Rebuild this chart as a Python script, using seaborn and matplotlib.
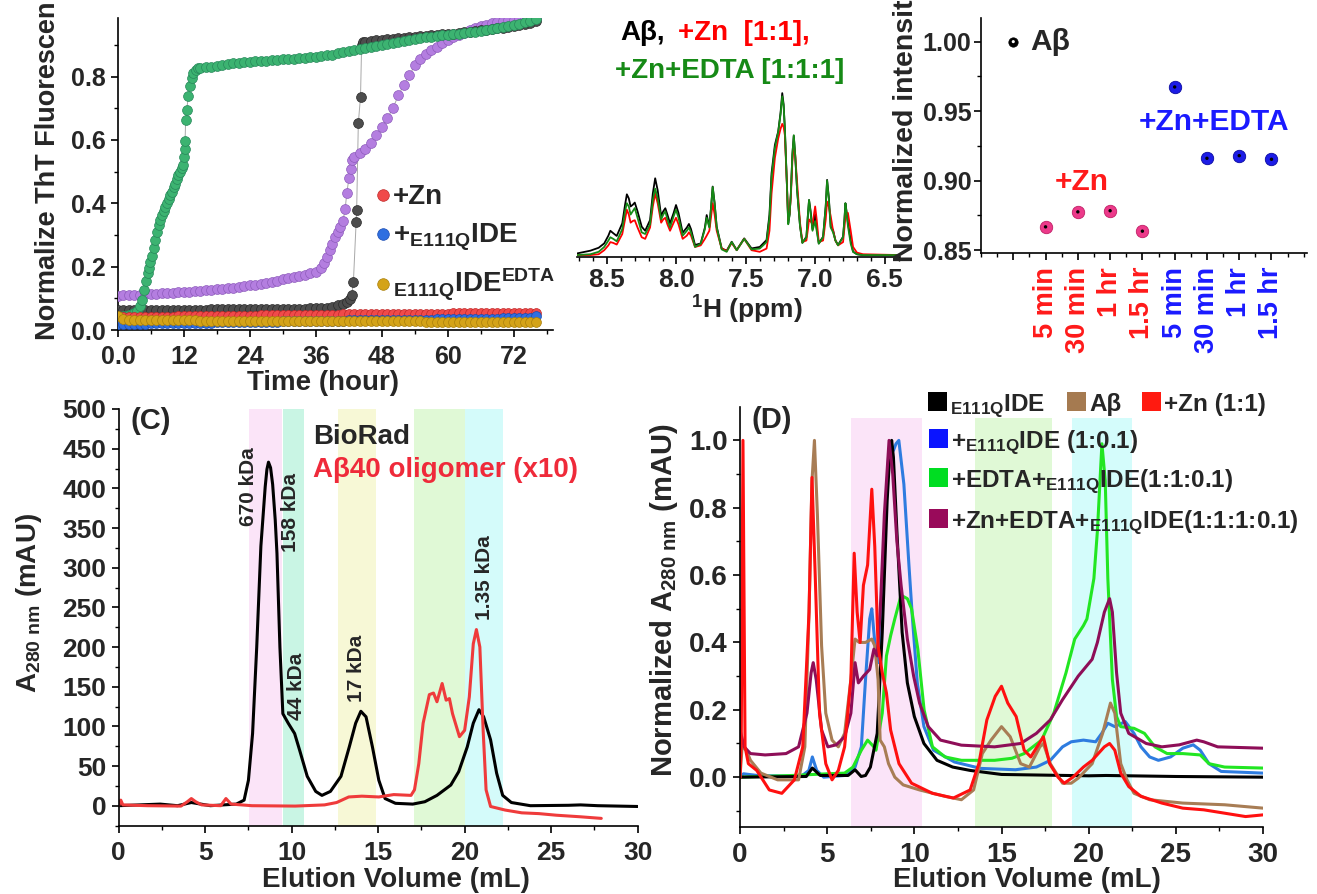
import matplotlib
matplotlib.use("Agg")
import matplotlib.pyplot as plt
import seaborn as sns
from matplotlib.ticker import MultipleLocator, FixedLocator
from matplotlib.patches import Rectangle

sns.set_theme(style="ticks")
plt.rcParams["font.family"] = ["Liberation Sans", "DejaVu Sans"]
plt.rcParams["font.weight"] = "bold"
plt.rcParams["mathtext.fontset"] = "custom"
plt.rcParams["mathtext.rm"] = "Liberation Sans:bold"
plt.rcParams["mathtext.bf"] = "Liberation Sans:bold"
plt.rcParams["mathtext.it"] = "Liberation Sans:bold"
plt.rcParams["mathtext.default"] = "bf"
plt.rcParams["axes.linewidth"] = 1.2

# ---------------- ThT kinetics (top left) ----------------
t_hourly = list(range(0, 77))
zn_tht = [0.040, 0.040, 0.041, 0.041, 0.041, 0.041, 0.042, 0.042, 0.042, 0.042,
          0.042, 0.043, 0.043, 0.043, 0.043, 0.043, 0.044, 0.044, 0.044, 0.044,
          0.044, 0.045, 0.045, 0.045, 0.045, 0.045, 0.046, 0.046, 0.046, 0.046,
          0.046, 0.047, 0.047, 0.047, 0.047, 0.047, 0.048, 0.048, 0.048, 0.048,
          0.048, 0.049, 0.049, 0.049, 0.049, 0.049, 0.050, 0.050, 0.050, 0.050,
          0.050, 0.051, 0.051, 0.051, 0.051, 0.051, 0.052, 0.052, 0.052, 0.052,
          0.052, 0.053, 0.053, 0.053, 0.053, 0.053, 0.054, 0.054, 0.054, 0.054,
          0.054, 0.055, 0.055, 0.055, 0.055, 0.055, 0.055]
ide_tht = [0.018, 0.019, 0.019, 0.020, 0.020, 0.020, 0.021, 0.021, 0.021, 0.021,
           0.022, 0.022, 0.022, 0.022, 0.023, 0.023, 0.023, 0.023, 0.024, 0.024,
           0.024, 0.024, 0.025, 0.025, 0.025, 0.025, 0.026, 0.026, 0.026, 0.026,
           0.027, 0.027, 0.027, 0.027, 0.028, 0.028, 0.028, 0.028, 0.029, 0.029,
           0.029, 0.029, 0.030, 0.030, 0.030, 0.030, 0.031, 0.031, 0.031, 0.031,
           0.032, 0.032, 0.032, 0.032, 0.033, 0.033, 0.033, 0.033, 0.034, 0.034,
           0.034, 0.034, 0.035, 0.035, 0.035, 0.035, 0.036, 0.036, 0.036, 0.036,
           0.037, 0.037, 0.037, 0.038, 0.038, 0.039, 0.044]
edta_tht = [0.045, 0.036, 0.033, 0.032, 0.031, 0.031, 0.030, 0.030, 0.030, 0.030,
            0.030, 0.030, 0.030, 0.030, 0.030, 0.029, 0.029, 0.029, 0.029, 0.029,
            0.029, 0.029, 0.029, 0.029, 0.029, 0.029, 0.029, 0.029, 0.029, 0.028,
            0.028, 0.028, 0.028, 0.028, 0.028, 0.028, 0.028, 0.028, 0.028, 0.028,
            0.028, 0.028, 0.028, 0.027, 0.027, 0.027, 0.027, 0.027, 0.027, 0.027,
            0.027, 0.027, 0.027, 0.027, 0.027, 0.027, 0.026, 0.026, 0.026, 0.026,
            0.026, 0.026, 0.026, 0.026, 0.026, 0.026, 0.026, 0.026, 0.026, 0.025,
            0.025, 0.025, 0.025, 0.025, 0.025, 0.025, 0.025]

gray_t = list(range(0, 42)) + [41.6, 42.1, 42.5, 42.8, 43.3, 43.4, 43.7, 44.1, 44.3, 44.6] + list(range(45, 77))
gray_v = [0.062, 0.062, 0.062, 0.063, 0.063, 0.063, 0.063, 0.063, 0.063, 0.063,
          0.064, 0.064, 0.064, 0.064, 0.064, 0.064, 0.064, 0.065, 0.065, 0.065,
          0.065, 0.065, 0.065, 0.065, 0.066, 0.066, 0.066, 0.066, 0.066, 0.066,
          0.067, 0.067, 0.067, 0.067, 0.067, 0.068, 0.068, 0.069, 0.071, 0.074,
          0.078, 0.083,
          0.089, 0.097, 0.110, 0.150, 0.340, 0.380, 0.653, 0.737, 0.900, 0.908,
          0.910, 0.912, 0.914, 0.916, 0.918, 0.920, 0.921, 0.923, 0.924, 0.926,
          0.927, 0.929, 0.930, 0.932, 0.933, 0.935, 0.936, 0.938, 0.940, 0.942,
          0.944, 0.946, 0.948, 0.950, 0.952, 0.954, 0.957, 0.960, 0.963, 0.966,
          0.970, 0.974]

green_t = [0, 0.5, 1, 1.5, 2, 2.5, 3, 3.5, 4.0, 4.4, 4.8, 5.1, 5.4, 5.6, 5.9,
           6.2, 6.5, 6.8, 7.1, 7.4, 7.7, 8.0, 8.3, 8.6, 8.9, 9.2, 9.5, 9.8, 10.1, 10.4,
           10.7, 11.0, 11.3, 11.6, 11.9, 12.0, 12.1, 12.2, 12.3, 12.5, 12.8, 13.1, 13.4,
           13.7, 14.1, 14.6] + list(range(15, 77))
green_v = [0.040, 0.041, 0.043, 0.045, 0.047, 0.050, 0.054, 0.060, 0.075, 0.095,
           0.125, 0.155, 0.180, 0.195, 0.215, 0.235, 0.260, 0.285, 0.310, 0.330,
           0.348, 0.362, 0.375, 0.388, 0.400, 0.412, 0.425, 0.437, 0.450, 0.462,
           0.476, 0.488, 0.500, 0.512, 0.522, 0.545, 0.570, 0.597, 0.663, 0.695,
           0.740, 0.770, 0.794, 0.812, 0.820, 0.826,
           0.827, 0.829, 0.831, 0.834, 0.837, 0.840, 0.842, 0.843, 0.845, 0.846,
           0.848, 0.849, 0.850, 0.852, 0.853, 0.855, 0.856, 0.857, 0.859, 0.860,
           0.862, 0.863, 0.865, 0.867, 0.869, 0.873, 0.878, 0.882, 0.884, 0.887,
           0.889, 0.893, 0.897, 0.900, 0.904, 0.907, 0.910, 0.913, 0.916, 0.919,
           0.921, 0.924, 0.926, 0.928, 0.930, 0.932, 0.934, 0.936, 0.938, 0.940,
           0.942, 0.944, 0.947, 0.950, 0.953, 0.956, 0.959, 0.963, 0.967, 0.971,
           0.976, 0.981]

purple_t = list(range(0, 37)) + [37, 37.5, 38, 38.6, 39, 39.5, 40, 40.4, 40.9, 41.3,
                                 41.6, 42.0, 42.3, 42.6] + list(range(43, 77))
purple_v = [0.108, 0.109, 0.110, 0.111, 0.112, 0.113, 0.114, 0.115, 0.116, 0.117,
            0.118, 0.119, 0.120, 0.121, 0.122, 0.124, 0.125, 0.126, 0.128, 0.130,
            0.132, 0.134, 0.136, 0.138, 0.141, 0.143, 0.146, 0.149, 0.152, 0.156,
            0.160, 0.163, 0.167, 0.171, 0.175, 0.179, 0.184,
            0.195, 0.210, 0.230, 0.253, 0.270, 0.295, 0.310, 0.326, 0.345, 0.381,
            0.432, 0.480, 0.507, 0.537,
            0.545, 0.558, 0.573, 0.590, 0.615, 0.642, 0.670, 0.700, 0.742, 0.775,
            0.805, 0.837, 0.855, 0.870, 0.884, 0.895, 0.906, 0.916, 0.924, 0.932,
            0.939, 0.946, 0.953, 0.960, 0.964, 0.968, 0.972, 0.975, 0.978, 0.980,
            0.982, 0.983, 0.984, 0.985]

time_ticks = [0, 12, 24, 36, 48, 60, 72]
time_labels = ["0.0", "12", "24", "36", "48", "60", "72"]

# ---------------- NMR (top middle) ----------------
nmr_ppm = [8.716, 8.62, 8.56, 8.52, 8.49, 8.476, 8.455, 8.43, 8.39, 8.37, 8.357, 8.343,
           8.33, 8.315, 8.30, 8.28, 8.25, 8.225, 8.19, 8.17, 8.153, 8.135, 8.11, 8.095,
           8.08, 8.065, 8.046, 8.02, 8.003, 7.985, 7.955, 7.925, 7.91, 7.895, 7.866,
           7.825, 7.795, 7.782, 7.763, 7.75, 7.739, 7.725, 7.71, 7.674, 7.638, 7.602,
           7.566, 7.512, 7.459, 7.40, 7.351, 7.33, 7.315, 7.291, 7.267, 7.25, 7.238,
           7.228, 7.219, 7.205, 7.195, 7.185, 7.176, 7.165, 7.155, 7.145, 7.131, 7.11,
           7.093, 7.064, 7.053, 7.045, 7.035, 7.02, 7.001, 6.99, 6.975, 6.944, 6.925,
           6.915, 6.903, 6.889, 6.872, 6.855, 6.836, 6.80, 6.79, 6.783, 6.775, 6.765,
           6.745, 6.728, 6.70, 6.656, 6.396]
nmr_ab = [0.01, 0.027, 0.045, 0.072, 0.12, 0.15, 0.135, 0.118, 0.196, 0.31, 0.375, 0.35,
          0.30, 0.31, 0.324, 0.27, 0.175, 0.15, 0.216, 0.38, 0.474, 0.40, 0.241, 0.27,
          0.289, 0.25, 0.196, 0.26, 0.309, 0.26, 0.138, 0.17, 0.192, 0.16, 0.062,
          0.072, 0.17, 0.247, 0.175, 0.30, 0.423, 0.32, 0.175, 0.041, 0.027, 0.082,
          0.031, 0.103, 0.041, 0.05, 0.093, 0.25, 0.505, 0.68, 0.763, 0.88, 1.0,
          0.93, 0.773, 0.45, 0.196, 0.25, 0.381, 0.62, 0.736, 0.62, 0.402, 0.18,
          0.076, 0.113, 0.25, 0.34, 0.28, 0.159, 0.25, 0.17, 0.072, 0.113, 0.30,
          0.464, 0.36, 0.175, 0.155, 0.09, 0.062, 0.113, 0.22, 0.32, 0.27, 0.20,
          0.09, 0.021, 0.005, 0.0, 0.0]
nmr_zn = [0.0, 0.0, 0.005, 0.03, 0.06, 0.08, 0.075, 0.065, 0.13, 0.22, 0.28, 0.25,
          0.20, 0.21, 0.215, 0.17, 0.11, 0.10, 0.17, 0.30, 0.38, 0.32, 0.20, 0.22,
          0.23, 0.19, 0.15, 0.20, 0.23, 0.19, 0.10, 0.12, 0.14, 0.12, 0.05,
          0.06, 0.10, 0.12, 0.15, 0.24, 0.32, 0.25, 0.15, 0.04, 0.025, 0.075,
          0.03, 0.10, 0.03, 0.02, 0.04, 0.15, 0.38, 0.60, 0.72, 0.78, 0.81,
          0.79, 0.74, 0.45, 0.22, 0.26, 0.36, 0.58, 0.68, 0.62, 0.45, 0.20,
          0.08, 0.09, 0.16, 0.22, 0.21, 0.19, 0.30, 0.22, 0.08, 0.09, 0.22,
          0.33, 0.30, 0.24, 0.15, 0.09, 0.06, 0.08, 0.17, 0.24, 0.26, 0.26,
          0.15, 0.05, 0.015, 0.005, 0.0]
nmr_edta = [0.0, 0.005, 0.02, 0.05, 0.09, 0.11, 0.10, 0.085, 0.16, 0.27, 0.32, 0.30,
            0.25, 0.27, 0.29, 0.23, 0.14, 0.13, 0.19, 0.34, 0.41, 0.35, 0.22, 0.25,
            0.27, 0.22, 0.17, 0.24, 0.28, 0.23, 0.12, 0.15, 0.17, 0.14, 0.05,
            0.07, 0.16, 0.23, 0.17, 0.30, 0.42, 0.32, 0.17, 0.035, 0.02, 0.08,
            0.03, 0.10, 0.035, 0.04, 0.08, 0.23, 0.48, 0.66, 0.76, 0.87, 0.98,
            0.92, 0.78, 0.45, 0.19, 0.25, 0.38, 0.62, 0.74, 0.62, 0.40, 0.18,
            0.075, 0.11, 0.25, 0.34, 0.27, 0.15, 0.21, 0.15, 0.07, 0.11, 0.30,
            0.46, 0.35, 0.17, 0.14, 0.09, 0.06, 0.11, 0.22, 0.32, 0.26, 0.18,
            0.07, 0.02, 0.005, 0.0, 0.0]

# ---------------- Normalized intensity (top right) ----------------
int_pos = [1, 2, 3, 4, 5, 6, 7, 8, 9]
int_labels = ["", "5 min", "30 min", "1 hr", "1.5 hr", "5 min", "30 min", "1 hr", "1.5 hr"]
ab_int = [1.000]
zn_int = [0.8668, 0.8776, 0.8784, 0.8637]
edta_int = [0.9674, 0.9161, 0.9180, 0.9154]

# ---------------- SEC calibration (bottom left) ----------------
bio_ml = [0, 2.4, 3.4, 4.2, 5.3, 6.8, 7.25, 7.5, 7.74, 7.98, 8.22, 8.47, 8.57, 8.66,
          8.78, 8.9, 9.05, 9.15, 9.32, 9.49, 9.8, 10.17, 10.46, 10.9, 11.39, 11.75,
          12.24, 12.85, 13.33, 13.7, 14.0, 14.3, 14.67, 15.04, 15.4, 16.0, 17.0, 17.7,
          18.4, 19.2, 19.66, 20.15, 20.5, 20.83, 21.1, 21.5, 21.85, 22.2, 22.7, 23.8,
          26.0, 26.7, 27.7, 30]
bio_mau = [0, 2, 0, 4, 0, 2, 7, 32, 91, 200, 327, 402, 424, 433,
           426, 405, 360, 318, 200, 116, 104, 91, 70, 37, 18, 13,
           18, 37, 74, 104, 119, 112, 74, 32, 9, 3, 2, 5,
           13, 26, 43, 74, 104, 121, 112, 83, 41, 13, 4, 0,
           0.5, 1, 0, -1]
olig_ml = [0, 0.12, 0.24, 1.65, 3.6, 3.97, 4.2, 4.45, 4.8, 5.9, 6.2, 6.5, 7.7, 10.2,
           11.9, 12.6, 13.3, 14.06, 15.04, 15.9, 16.9, 17.1, 17.35, 17.6, 17.96, 18.2,
           18.4, 18.7, 18.93, 19.12, 19.3, 19.7, 20.0, 20.27, 20.5, 20.68, 20.88, 21.07,
           21.24, 21.5, 22.34, 23.3, 24.3, 25.3, 26.7, 27.9]
olig_mau = [0, 7, 1, 0, -0.5, 5, 9, 5, 1, 0, 9, 2, 0, -0.5,
            1, 4, 11, 12, 11, 14, 13, 20, 53, 104, 140, 142,
            131, 154, 133, 135, 116, 87, 95, 137, 204, 222, 200, 95,
            20, -1, -5.5, -9, -10, -12, -14, -16]
bands_c = [(7.54, 9.45, "#fbe4f8"), (9.49, 10.7, "#c9f5e4"), (12.65, 14.86, "#f7f8d6"),
           (17.1, 20.0, "#e0f9d6"), (20.0, 22.2, "#d4fbfa")]
kda_labels = ["670 kDa", "158 kDa", "44 kDa", "17 kDa", "1.35 kDa"]

# ---------------- SEC normalized (bottom right) ----------------
ide_ml = [0, 3.8, 4.15, 4.6, 6.2, 6.6, 6.95, 7.2, 7.48, 7.87, 8.16, 8.44, 8.6, 8.7,
          8.8, 9.0, 9.3, 9.6, 10.0, 10.55, 11.3, 12.2, 13.2, 15, 20, 21, 25, 30]
ide_v = [0.0, 0.002, 0.027, 0.005, 0.005, 0.022, 0.002, 0.005, 0.03, 0.13, 0.43, 0.82,
         0.97, 1.0, 0.95, 0.73, 0.43, 0.28, 0.18, 0.10, 0.05, 0.03, 0.02, 0.008, 0.004,
         0.005, 0.002, 0.0]
ab_ml = [0, 0.12, 0.36, 0.6, 1.2, 2.16, 3.36, 3.72, 3.96, 4.13, 4.27, 4.44, 4.68, 4.92,
         5.28, 5.64, 6.0, 6.36, 6.6, 6.84, 7.2, 7.56, 7.73, 7.92, 8.04, 8.28, 8.52, 8.88,
         9.36, 10.3, 11.76, 12.7, 13.4, 13.9, 14.4, 15.0, 15.5, 16.1, 16.6, 17.2, 17.4,
         17.8, 18.5, 19.0, 19.4, 20.2, 20.8, 21.25, 21.5, 21.84, 22.2, 22.6, 23.5, 25.4,
         27.8, 30]
ab_v = [0.0, 0.09, 0.08, 0.05, 0.012, -0.008, -0.008, 0.09, 0.49, 0.88, 1.0, 0.78, 0.39,
        0.19, 0.11, 0.09, 0.13, 0.29, 0.41, 0.40, 0.40, 0.41, 0.39, 0.29, 0.11, 0.09, 0.04,
        0.0, -0.023, -0.038, -0.057, -0.067, -0.038, 0.07, 0.11, 0.15, 0.12, 0.04, 0.03,
        0.09, 0.10, 0.04, -0.018, -0.018, -0.003, 0.04, 0.13, 0.22, 0.19, 0.04, -0.008,
        -0.048, -0.067, -0.077, -0.082, -0.092]
zn_ml = [0, 0.07, 0.17, 0.29, 0.48, 0.96, 1.68, 2.4, 3.12, 3.6, 3.96, 4.13, 4.32, 4.56,
         4.92, 5.28, 5.64, 6.0, 6.36, 6.55, 6.72, 6.89, 7.08, 7.32, 7.56, 7.73, 7.92, 8.16,
         8.4, 8.64, 9.12, 9.84, 11.04, 12.24, 13.2, 13.7, 14.16, 14.64, 15.0, 15.36, 15.84,
         16.3, 16.68, 17.04, 17.4, 17.76, 18.24, 18.6, 19.1, 19.7, 20.2, 20.9, 21.2, 21.5,
         21.84, 22.3, 23.0, 24.2, 25.4, 26.6, 27.8, 29.0, 30]
zn_v = [-0.003, 0.1, 1.0, 0.09, 0.04, 0.02, -0.038, -0.048, -0.008, 0.09, 0.49, 0.89,
        0.59, 0.19, 0.04, -0.008, 0.02, 0.09, 0.29, 0.665, 0.49, 0.40, 0.57, 0.63, 0.855,
        0.685, 0.39, 0.31, 0.25, 0.14, 0.04, -0.018, -0.048, -0.062, -0.038, 0.04, 0.17,
        0.24, 0.27, 0.22, 0.18, 0.08, 0.06, 0.09, 0.12, 0.04, 0.0, -0.018, 0.0, 0.03, 0.05,
        0.09, 0.10, 0.08, 0.012, -0.028, -0.057, -0.077, -0.092, -0.097, -0.107, -0.117,
        -0.112]
blue_ml = [0, 0.2, 1, 3.5, 3.95, 4.15, 4.4, 4.8, 6.0, 6.6, 6.96, 7.2, 7.44, 7.56, 7.8,
           7.95, 8.16, 8.4, 8.54, 8.65, 8.8, 8.95, 9.11, 9.4, 9.69, 9.88, 10.17, 10.55,
           11.1, 12.3, 13.8, 15.8, 17.0, 17.8, 18.5, 19.0, 19.7, 20.4, 20.75, 21.1, 21.5,
           22.1, 22.6, 23.0, 23.5, 24.0, 24.7, 25.4, 26.0, 26.4, 26.9, 27.6, 30]
blue_v = [0.0, 0.01, 0.005, 0.002, 0.02, 0.06, 0.02, 0.0, 0.005, 0.03, 0.09, 0.29, 0.47,
          0.5, 0.36, 0.34, 0.54, 0.83, 0.97, 0.99, 0.97, 0.99, 1.0, 0.87, 0.63, 0.48, 0.28,
          0.15, 0.08, 0.045, 0.026, 0.022, 0.03, 0.05, 0.09, 0.105, 0.11, 0.105, 0.13,
          0.16, 0.15, 0.165, 0.13, 0.09, 0.06, 0.05, 0.06, 0.086, 0.096, 0.08, 0.04,
          0.017, 0.012]
edta_ml = [0, 3.0, 5.0, 6.0, 6.48, 6.96, 7.32, 7.68, 7.8, 8.16, 8.4, 8.64, 8.88, 9.24,
           9.6, 9.84, 10.2, 10.56, 11.04, 11.76, 12.7, 14.6, 15.6, 16.3, 17.3, 18.0, 18.7,
           19.2, 19.7, 19.9, 20.3, 20.5, 20.76, 20.95, 21.1, 21.36, 21.6, 21.84, 22.6, 23.2,
           23.8, 24.5, 25.4, 26.4, 26.9, 27.8, 30]
edta_v = [0.0, 0.005, 0.01, 0.012, 0.03, 0.08, 0.11, 0.09, 0.08, 0.19, 0.36, 0.42, 0.47,
          0.54, 0.53, 0.50, 0.38, 0.20, 0.09, 0.06, 0.05, 0.05, 0.056, 0.07, 0.11, 0.19,
          0.31, 0.41, 0.45, 0.47, 0.59, 0.73, 0.99, 0.88, 0.59, 0.29, 0.18, 0.15, 0.145,
          0.13, 0.09, 0.07, 0.07, 0.066, 0.04, 0.03, 0.027]
zne_ml = [0, 0.24, 0.6, 1.44, 2.64, 3.36, 3.84, 4.08, 4.2, 4.37, 4.68, 5.04, 5.52, 6.0,
          6.36, 6.6, 6.79, 7.08, 7.44, 7.68, 7.87, 8.04, 8.28, 8.55, 8.76, 9.0, 9.24, 9.6,
          9.96, 10.3, 10.8, 11.5, 12.7, 14.6, 16.1, 17.0, 17.8, 18.5, 19.4, 20.2, 20.5,
          20.9, 21.2, 21.36, 21.6, 21.84, 22.3, 23.3, 24.2, 25.2, 26.2, 26.6, 27.4, 30]
zne_v = [0.14, 0.09, 0.07, 0.066, 0.07, 0.09, 0.19, 0.31, 0.34, 0.29, 0.14, 0.09, 0.096,
         0.12, 0.19, 0.34, 0.28, 0.30, 0.32, 0.38, 0.36, 0.49, 0.78, 1.0, 0.90, 0.70, 0.57,
         0.41, 0.30, 0.22, 0.15, 0.11, 0.095, 0.09, 0.10, 0.13, 0.17, 0.23, 0.30, 0.35,
         0.40, 0.49, 0.53, 0.49, 0.31, 0.19, 0.13, 0.10, 0.09, 0.096, 0.11, 0.105, 0.09,
         0.086]
bands_d = [(6.38, 10.45, "#fbe4f8"), (13.5, 17.9, "#e0f9d6"), (19.05, 22.5, "#d4fcfb")]

# ================= figure =================
W, H = 1317, 894
fig = plt.figure(figsize=(W / 100, H / 100), dpi=100)


def box(l, t, r, b):
    return [l / W, 1 - b / H, (r - l) / W, (b - t) / H]


def ftext(x, y, s, **kw):
    return fig.text(x / W, 1 - y / H, s, **kw)


def style(ax, size):
    sns.despine(ax=ax)
    ax.tick_params(axis="both", which="major", direction="out", length=5, width=1.2,
                   labelsize=size, pad=4, color="black")
    ax.tick_params(axis="both", which="minor", direction="out", length=3, width=1.0,
                   color="black")
    for s in ax.spines.values():
        s.set_color("black")


# ---- A: ThT ----
axA = fig.add_axes(box(118, 18, 553, 330))
series = [(purple_t, purple_v, "#b47ee0", "#8e5cbc"),
          (gray_t, gray_v, "#4d4d4d", "#2a2a2a"),
          (green_t, green_v, "#3cb371", "#27885a"),
          (t_hourly, zn_tht, "#f04a4a", "#c02828"),
          (t_hourly, ide_tht, "#2f6fe0", "#1a4bb0"),
          (t_hourly, edta_tht, "#d4a318", "#a87e0a")]
for t, v, c, e in series:
    sns.lineplot(x=t, y=v, ax=axA, color="#a8a8a8", lw=0.7, sort=False, estimator=None, zorder=2)
    sns.scatterplot(x=t, y=v, ax=axA, color=c, edgecolor=e, linewidth=0.5, s=50, zorder=3)
axA.set_xlim(0, 79.1)
axA.set_ylim(0, 0.985)
axA.xaxis.set_major_locator(FixedLocator(time_ticks))
axA.set_xticklabels(time_labels)
axA.xaxis.set_minor_locator(MultipleLocator(6))
axA.yaxis.set_major_locator(MultipleLocator(0.2))
axA.yaxis.set_minor_locator(MultipleLocator(0.1))
axA.yaxis.set_major_formatter(matplotlib.ticker.FormatStrFormatter("%.1f"))
style(axA, 18)
axA.tick_params(axis="x", pad=6)
axA.set_xlabel("")
axA.set_ylabel("")
# the label is cropped at the top edge in the source figure
ftext(48, 340, "Normalize ThT Fluorescen", rotation=90, ha="center", va="bottom", fontsize=19.5)
ftext(323, 383, "Time (hour)", ha="center", va="center", fontsize=20)
leg_rows = [(0.404, "+Zn", "#f04a4a", "#c02828"),
            (0.279, "+$_{E111Q}$IDE", "#2f6fe0", "#1a4bb0"),
            (0.119, "$_{E111Q}$IDE$^{EDTA}$", "#d4a318", "#a87e0a")]
for yb, lab, c, e in leg_rows:
    axA.scatter([0.609], [yb + 0.028], s=70, color=c, edgecolor=e, linewidth=0.5,
                transform=axA.transAxes, zorder=5)
    axA.text(0.632, yb, lab, transform=axA.transAxes, fontsize=20, va="baseline", ha="left")

# ---- B: NMR ----
axB = fig.add_axes(box(577, 85, 900, 257))
sns.lineplot(x=nmr_ppm, y=nmr_ab, ax=axB, color="black", lw=1.3, sort=False, estimator=None)
sns.lineplot(x=nmr_ppm, y=nmr_zn, ax=axB, color="#ff0000", lw=1.3, sort=False, estimator=None)
sns.lineplot(x=nmr_ppm, y=nmr_edta, ax=axB, color="#168a16", lw=1.3, sort=False, estimator=None)
axB.set_xlim(8.716, 6.39)
axB.set_ylim(-0.012, 1.05)
axB.xaxis.set_major_locator(MultipleLocator(0.5))
axB.xaxis.set_minor_locator(MultipleLocator(0.1))
axB.xaxis.set_major_formatter(matplotlib.ticker.FormatStrFormatter("%.1f"))
style(axB, 19)
axB.tick_params(axis="x", pad=3)
axB.spines["left"].set_visible(False)
axB.set_yticks([])
axB.set_xlabel("")
axB.set_ylabel("")
ftext(747, 310, "$^{1}$H (ppm)", ha="center", va="center", fontsize=19)
ftext(620, 40, "A\u03b2,", ha="left", va="baseline", fontsize=20, color="black")
ftext(678, 40, "+Zn  [1:1],", ha="left", va="baseline", fontsize=20, color="#ff0000")
ftext(615, 78, "+Zn+EDTA [1:1:1]", ha="left", va="baseline", fontsize=20, color="#168a16")

# ---- C: normalized intensity ----
axC = fig.add_axes(box(981, 18, 1307, 253))
sns.scatterplot(x=int_pos[:1], y=ab_int, ax=axC, color="black", edgecolor="black", s=45, zorder=3)
sns.scatterplot(x=int_pos[1:5], y=zn_int, ax=axC, color="#ec3a8a", edgecolor="#c01f66",
                linewidth=0.6, s=80, zorder=3)
sns.scatterplot(x=int_pos[5:], y=edta_int, ax=axC, color="#1c1ce6", edgecolor="#0a0aa0",
                linewidth=0.6, s=80, zorder=3)
sns.scatterplot(x=int_pos[:1], y=ab_int, ax=axC, color="white", edgecolor="none", s=5, zorder=4)
sns.scatterplot(x=int_pos[1:], y=zn_int + edta_int, ax=axC, color="black", edgecolor="none",
                s=6, zorder=4)
axC.set_xlim(0, 10.1)
axC.set_ylim(0.848, 1.017)
axC.xaxis.set_major_locator(FixedLocator(int_pos))
axC.set_xticklabels(int_labels, rotation=90)
axC.xaxis.set_minor_locator(MultipleLocator(0.5))
axC.yaxis.set_major_locator(MultipleLocator(0.05))
axC.yaxis.set_minor_locator(MultipleLocator(0.025))
axC.yaxis.set_major_formatter(matplotlib.ticker.FormatStrFormatter("%.2f"))
style(axC, 18)
axC.tick_params(axis="y", pad=2)
axC.tick_params(axis="x", labelsize=19.5, pad=5)
for i, lab in enumerate(axC.get_xticklabels()):
    lab.set_color("#ff1a1a" if i <= 4 else "#1a1aff")
axC.set_xlabel("")
axC.set_ylabel("")
# cropped at the top edge in the source figure
ftext(906, 262, "Normalized intensit", rotation=90, ha="center", va="bottom", fontsize=20.5)
ftext(1030, 42, "A\u03b2", ha="left", va="center", fontsize=21.5)
ftext(1055, 182, "+Zn", ha="left", va="center", fontsize=21.5, color="#ff1a1a")
ftext(1139, 122, "+Zn+EDTA", ha="left", va="center", fontsize=21.5, color="#1a1aff")

# ---- D: SEC calibration ----
axD = fig.add_axes(box(118.7, 409, 637.6, 826))
for x0, x1, c in bands_c:
    axD.axvspan(x0, x1, color=c, lw=0, zorder=0)
sns.lineplot(x=bio_ml, y=bio_mau, ax=axD, color="black", lw=2.2, sort=False, estimator=None)
sns.lineplot(x=olig_ml, y=olig_mau, ax=axD, color="#ef3b3b", lw=2.2, sort=False, estimator=None)
axD.set_xlim(0, 30)
axD.set_ylim(-25.6, 500)
axD.xaxis.set_major_locator(MultipleLocator(5))
axD.xaxis.set_minor_locator(MultipleLocator(2.5))
axD.yaxis.set_major_locator(MultipleLocator(50))
axD.yaxis.set_minor_locator(MultipleLocator(25))
style(axD, 19)
axD.tick_params(axis="x", pad=6)
axD.set_xlabel("")
axD.set_ylabel("")
ftext(29, 603, "A$_{280\\ nm}$ (mAU)", rotation=90, ha="center", va="center", fontsize=20)
ftext(396, 880, "Elution Volume (mL)", ha="center", va="center", fontsize=20)
ftext(130, 421, "(C)", ha="left", va="center", fontsize=21)
ftext(313, 437, "BioRad", ha="left", va="center", fontsize=20)
ftext(313, 470, "A\u03b240 oligomer (x10)", ha="left", va="center", fontsize=20, color="#ef2a3a")
kda_pos = [(248, 487), (290, 513), (297, 686), (357, 668), (484, 578)]
for (x, y), lab in zip(kda_pos, kda_labels):
    ftext(x, y, lab, rotation=90, ha="center", va="center", fontsize=15)

# ---- E: SEC normalized ----
axE = fig.add_axes(box(740, 406.7, 1263, 827))
for x0, x1, c in bands_d:
    axE.axvspan(x0, x1, ymin=0, ymax=0.973, color=c, lw=0, zorder=0)
lines_e = [(blue_ml, blue_v, "#2e7ce0"), (edta_ml, edta_v, "#22e622"),
           (ide_ml, ide_v, "black"), (ab_ml, ab_v, "#a87d55"),
           (zne_ml, zne_v, "#8e0e58"), (zn_ml, zn_v, "#ff1010")]
for x, y, c in lines_e:
    sns.lineplot(x=x, y=y, ax=axE, color=c, lw=2.2, sort=False, estimator=None)
axE.set_xlim(0, 30)
axE.set_ylim(-0.148, 1.10)
axE.xaxis.set_major_locator(MultipleLocator(5))
axE.xaxis.set_minor_locator(MultipleLocator(2.5))
axE.yaxis.set_major_locator(FixedLocator([0.0, 0.2, 0.4, 0.6, 0.8, 1.0]))
axE.yaxis.set_minor_locator(FixedLocator([-0.1, 0.1, 0.3, 0.5, 0.7, 0.9]))
axE.yaxis.set_major_formatter(matplotlib.ticker.FormatStrFormatter("%.1f"))
style(axE, 20)
axE.tick_params(axis="x", pad=6)
axE.set_xlabel("")
axE.set_ylabel("")
ftext(664, 600, "Normalized A$_{280\\ nm}$ (mAU)", rotation=90, ha="center", va="center",
      fontsize=21)
ftext(1027, 880, "Elution Volume (mL)", ha="center", va="center", fontsize=20)
ftext(752, 420, "(D)", ha="left", va="center", fontsize=21)

legend_e = [(928, 411, "#000000", "$_{E111Q}$IDE"),
            (1067, 411, "#a57a50", "A\u03b2"),
            (1142, 411, "#ff1a10", "+Zn (1:1)"),
            (929, 448, "#0a14ff", "+$_{E111Q}$IDE (1:0.1)"),
            (929, 487, "#00dd22", "+EDTA+$_{E111Q}$IDE(1:1:0.1)"),
            (929, 528, "#990a5a", "+Zn+EDTA+$_{E111Q}$IDE(1:1:1:0.1)")]
for x, yb, c, lab in legend_e:
    fig.add_artist(Rectangle((x / W, 1 - yb / H), 19 / W, 19 / H, transform=fig.transFigure,
                             facecolor=c, edgecolor="none"))
    ftext(x + 22, yb, lab, ha="left", va="baseline", fontsize=17.5)

fig.savefig("out.png", dpi=100)
